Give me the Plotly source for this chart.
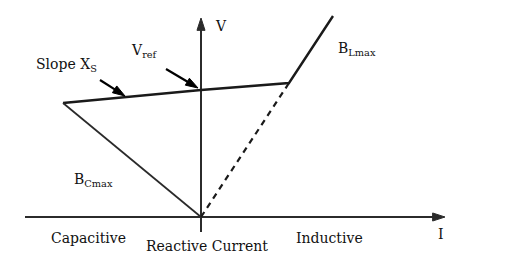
import plotly.graph_objects as go

# Diagram points in (I, V) coordinates, origin at axis crossing
char_I = [-138, 0, 88, 132]          # left vertex -> Vref -> knee -> upper end
char_V = [114, 127, 134, 201]
cap_I = [-138, 0]
cap_V = [114, 0]
dash_I = [0, 88]
dash_V = [0, 134]
axis_I_range = [-176, 244]
axis_V_range = [-15, 199]
slope_arrow_I = [-101, -76]
slope_arrow_V = [137, 121]
vref_arrow_I = [-35, -3]
vref_arrow_V = [148, 129]

fig = go.Figure()
FONT = "DejaVu Serif"
ink = "#1a1a1a"

def arrow_line(xs, ys, color, width, size):
    fig.add_trace(go.Scatter(
        x=xs, y=ys, mode="lines+markers", hoverinfo="skip",
        line=dict(color=color, width=width),
        marker=dict(symbol=["circle", "arrow"], size=[0, size], angleref="previous",
                    color=color, opacity=1, line=dict(width=1, color=color)),
    ))

# axes with arrowheads
arrow_line([axis_I_range[0], axis_I_range[1]], [0, 0], "#2b2b2b", 2, 13)
arrow_line([0, 0], [axis_V_range[0], axis_V_range[1]], "#2b2b2b", 2, 13)
# characteristic
fig.add_trace(go.Scatter(x=char_I, y=char_V, mode="lines", line=dict(color=ink, width=2.4), hoverinfo="skip"))
fig.add_trace(go.Scatter(x=cap_I, y=cap_V, mode="lines", line=dict(color="#2a2a2a", width=1.7), hoverinfo="skip"))
fig.add_trace(go.Scatter(x=dash_I, y=dash_V, mode="lines", line=dict(color=ink, width=2.2, dash="6px,5px"), hoverinfo="skip"))
# pointer arrows
arrow_line(slope_arrow_I, slope_arrow_V, "#000", 2.2, 13)
arrow_line(vref_arrow_I, vref_arrow_V, "#000", 2.2, 13)

anns = []
def lab(x, y, t, size=14):
    anns.append(dict(x=x, y=y, xref="x", yref="y", text=t, showarrow=False, xanchor="left", yanchor="middle",
                     font=dict(family=FONT, size=size, color="#111")))

lab(-167, 152, "Slope X<sub>S</sub>")
lab(-72, 166, "V<sub>ref</sub>")
lab(12, 191, "V")
lab(135, 168, "B<sub>Lmax</sub>")
lab(-129, 37, "B<sub>Cmax</sub>")
lab(-152, -21, "Capacitive")
lab(-57, -29, "Reactive Current")
lab(93, -21, "Inductive")
lab(235, -17, "I")

fig.update_layout(
    width=505, height=254, margin=dict(l=0, r=0, t=0, b=0),
    paper_bgcolor="white", plot_bgcolor="white", showlegend=False,
    xaxis=dict(range=[-201, 304], visible=False, fixedrange=True),
    yaxis=dict(range=[-37, 217], visible=False, fixedrange=True),
    annotations=anns,
)
fig.write_html("out.html")
